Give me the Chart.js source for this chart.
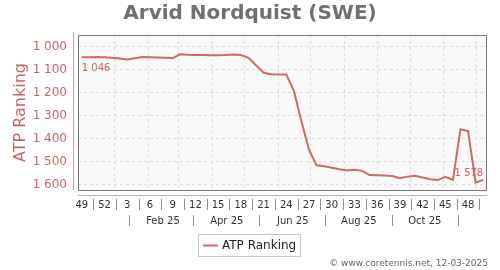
<!DOCTYPE html>
<html>
<head>
<meta charset="utf-8">
<script src="https://cdn.jsdelivr.net/npm/chart.js@4.4.1/dist/chart.umd.min.js"></script>
<style>
  html, body { margin: 0; padding: 0; background: #fff; }
  canvas { display: block; }
</style>
</head>
<body>
<canvas id="rankChart" width="500" height="270"></canvas>
<script>
// ── Data ──
const weeks = [49, 50, 51, 52, 1, 2, 3, 4, 5, 6, 7, 8, 9, 10, 11, 12, 13, 14, 15, 16,
  17, 18, 19, 20, 21, 22, 23, 24, 25, 26, 27, 28, 29, 30, 31, 32, 33, 34, 35, 36,
  37, 38, 39, 40, 41, 42, 43, 44, 45, 46, 47, 48, 49, 50];
const ranks = [1046, 1046, 1045, 1046, 1048, 1051, 1055, 1050, 1045, 1046,
  1047, 1048, 1049, 1033, 1035, 1036, 1036, 1037, 1037, 1036,
  1034, 1036, 1048, 1080, 1113, 1119, 1120, 1120, 1191, 1325,
  1447, 1515, 1519, 1525, 1532, 1537, 1534, 1539, 1557, 1558,
  1559, 1561, 1571, 1564, 1560, 1568, 1575, 1579, 1565, 1578,
  1358, 1366, 1590, 1578];
const yTicks = [1000, 1100, 1200, 1300, 1400, 1500, 1600];
const startDate = [2024, 11, 2];           // first week: 2 Dec 2024
const gridMonths = [0, 1, 2, 3, 4, 5, 6, 7, 8, 9, 10, 11];  // month starts of 2025
const monthLabels = ['Feb 25', 'Apr 25', 'Jun 25', 'Aug 25', 'Oct 25'];
const labelMonths = [1, 3, 5, 7, 9];
const sepMonths = [0, 2, 4, 6, 8, 10];

const RED = '#cc6464';
const LINE = '#d06868';
const FONT = "'DejaVu Sans', sans-serif";

const t0 = Date.UTC(startDate[0], startDate[1], startDate[2]);
const weekIdx = (y, m, d) => (Date.UTC(y, m, d) - t0) / (7 * 86400000);
const fmt = v => String(v).replace(/\B(?=(\d{3})+(?!\d))/g, ' ');

const decor = {
  id: 'decor',
  beforeDraw(chart) {
    const { ctx, chartArea: a } = chart;
    ctx.save();
    ctx.fillStyle = '#f9f9f9';
    ctx.fillRect(a.left, a.top, a.right - a.left, a.bottom - a.top);
    ctx.restore();
  },
  beforeDatasetsDraw(chart) {
    const { ctx, chartArea: a, scales: { x } } = chart;
    ctx.save();
    ctx.strokeStyle = '#dcdcdc';
    ctx.lineWidth = 1;
    ctx.setLineDash([3, 3]);
    gridMonths.forEach(m => {
      const px = Math.round(x.getPixelForValue(weekIdx(2025, m, 1))) + 0.5;
      if (px <= a.left || px >= a.right) return;
      ctx.beginPath();
      ctx.moveTo(px, a.top);
      ctx.lineTo(px, a.bottom);
      ctx.stroke();
    });
    ctx.restore();
  },
  afterDatasetsDraw(chart) {
    const { ctx, chartArea: a, scales: { x, y } } = chart;
    ctx.save();

    // plot frame
    ctx.strokeStyle = '#787878';
    ctx.lineWidth = 1;
    ctx.strokeRect(a.left + 0.5, a.top + 0.5, a.right - a.left - 1, a.bottom - a.top);

    // y axis line (red) and x axis line (grey)
    ctx.strokeStyle = '#dc9c9c';
    ctx.beginPath();
    ctx.moveTo(a.left - 4.5, a.top - 3);
    ctx.lineTo(a.left - 4.5, a.bottom);
    ctx.stroke();
    ctx.strokeStyle = '#b0b0b0';
    ctx.beginPath();
    ctx.moveTo(a.left, a.bottom + 5.5);
    ctx.lineTo(a.right, a.bottom + 5.5);
    ctx.stroke();

    // week separators
    ctx.strokeStyle = '#909090';
    for (let i = 1.5; i < weeks.length - 1; i += 3) {
      const px = Math.round(x.getPixelForValue(i)) + 0.5;
      ctx.beginPath();
      ctx.moveTo(px, a.bottom + 9);
      ctx.lineTo(px, a.bottom + 20);
      ctx.stroke();
    }
    // month separators + labels
    sepMonths.forEach(m => {
      const px = Math.round(x.getPixelForValue(weekIdx(2025, m, 15))) + 0.5;
      ctx.beginPath();
      ctx.moveTo(px, a.bottom + 25);
      ctx.lineTo(px, a.bottom + 36);
      ctx.stroke();
    });
    ctx.fillStyle = '#333';
    ctx.font = '10px ' + FONT;
    ctx.textAlign = 'center';
    ctx.textBaseline = 'middle';
    monthLabels.forEach((lbl, k) => {
      ctx.fillText(lbl, x.getPixelForValue(weekIdx(2025, labelMonths[k], 15)), a.bottom + 31);
    });

    // first / last value labels
    const last = ranks.length - 1;
    ctx.fillStyle = RED;
    ctx.font = '10px ' + FONT;
    ctx.textBaseline = 'alphabetic';
    ctx.textAlign = 'left';
    ctx.fillText(fmt(ranks[0]), x.getPixelForValue(0), y.getPixelForValue(ranks[0]) + 14);
    ctx.textAlign = 'right';
    ctx.fillText(fmt(ranks[last]), x.getPixelForValue(last), y.getPixelForValue(ranks[last]) - 4);

    // title
    ctx.fillStyle = '#707070';
    ctx.font = 'bold 20px ' + FONT;
    ctx.textAlign = 'center';
    ctx.textBaseline = 'middle';
    ctx.fillText('Arvid Nordquist (SWE)', 250, 14);

    // y axis title
    ctx.save();
    ctx.translate(21, (a.top + a.bottom) / 2);
    ctx.rotate(-Math.PI / 2);
    ctx.fillStyle = RED;
    ctx.font = '16px ' + FONT;
    ctx.fillText('ATP Ranking', 0, 0);
    ctx.restore();

    // legend
    ctx.strokeStyle = '#c8c8c8';
    ctx.strokeRect(198.5, 234.5, 102, 22);
    ctx.strokeStyle = LINE;
    ctx.lineWidth = 2;
    ctx.beginPath();
    ctx.moveTo(203, 245.5);
    ctx.lineTo(218, 245.5);
    ctx.stroke();
    ctx.fillStyle = '#222';
    ctx.font = '12px ' + FONT;
    ctx.textAlign = 'left';
    ctx.fillText('ATP Ranking', 222, 246);

    // credit
    ctx.fillStyle = '#666';
    ctx.font = '9px ' + FONT;
    ctx.textAlign = 'right';
    ctx.fillText('\u00a9 www.coretennis.net, 12-03-2025', 488, 264);

    ctx.restore();
  }
};

new Chart(document.getElementById('rankChart'), {
  type: 'line',
  data: {
    datasets: [{
      label: 'ATP Ranking',
      data: ranks.map((r, i) => ({ x: i, y: r })),
      borderColor: LINE,
      borderWidth: 2,
      pointRadius: 0,
      tension: 0,
      fill: false
    }]
  },
  options: {
    responsive: false,
    animation: false,
    layout: { padding: { top: 35, right: 13, bottom: 0, left: 0 } },
    plugins: {
      legend: { display: false },
      tooltip: { enabled: false },
      title: { display: false }
    },
    scales: {
      x: {
        type: 'linear',
        min: -0.5,
        max: 53.5,
        grid: { display: false },
        border: { display: false },
        afterBuildTicks: s => {
          s.ticks = weeks.map((w, i) => ({ value: i })).filter(t => t.value % 3 === 0);
        },
        ticks: {
          autoSkip: false,
          maxRotation: 0,
          padding: 1,
          color: '#333',
          font: { size: 10, family: FONT },
          callback: v => weeks[v]
        },
        afterFit: s => { s.height = 80; }
      },
      y: {
        reverse: true,
        min: 949,
        max: 1622,
        afterBuildTicks: s => { s.ticks = yTicks.map(v => ({ value: v })); },
        grid: { color: '#dcdcdc', drawTicks: false },
        border: { display: false, dash: [3, 3] },
        ticks: {
          padding: 11,
          color: RED,
          font: { size: 12, family: FONT },
          callback: v => fmt(v)
        },
        afterFit: s => { s.width = 78; }
      }
    }
  },
  plugins: [decor]
});
</script>
</body>
</html>
